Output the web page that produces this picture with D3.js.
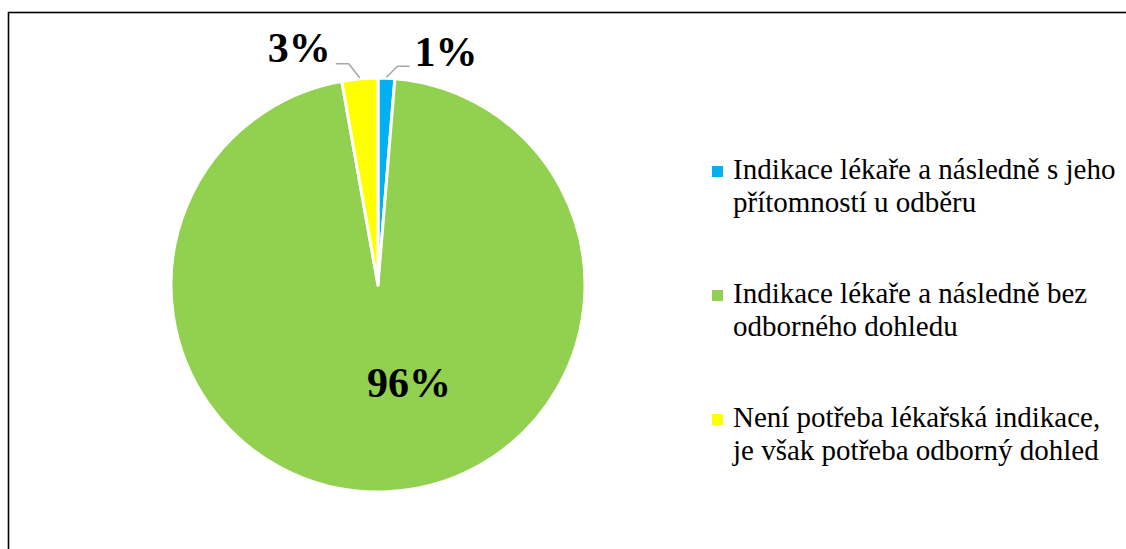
<!DOCTYPE html>
<html lang="cs">
<head>
    <meta charset="UTF-8">
    <title>Graf</title>
    <script src="https://d3js.org/d3.v7.min.js"></script>
    <style>
        body { margin: 0; background: #fff; }
        svg { display: block; }
        text { font-family: "Liberation Serif", "Times New Roman", Times, serif; }
        .pct { font-weight: bold; font-size: 42px; fill: #000; }
        .legend text { font-size: 29px; fill: #000; }
        .leader { fill: none; stroke: #a6a6a6; stroke-width: 1.5; }
    </style>
</head>
<body>
<script>
    const width = 1126;
    const height = 549;

    // data
    const categories = [
        ["Indikace lékaře a následně s jeho", "přítomností u odběru"],
        ["Indikace lékaře a následně bez", "odborného dohledu"],
        ["Není potřeba lékařská indikace,", "je však potřeba odborný dohled"]
    ];
    const values = [1.3, 95.9, 2.8];
    const valueLabels = ["1%", "96%", "3%"];
    const colors = ["#00b0f0", "#92d050", "#ffff00"];

    const svg = d3.select("body").append("svg")
        .attr("width", width).attr("height", height);

    // chart frame (runs off the right / bottom edge)
    svg.append("rect")
        .attr("x", 8.5).attr("y", 12.5)
        .attr("width", width + 20).attr("height", height + 20)
        .attr("fill", "none").attr("stroke", "#000").attr("stroke-width", 1.6);

    const cx = 378, cy = 285, radius = 207;

    const pie = d3.pie().sort(null).value(d => d)(values);
    const arc = d3.arc().innerRadius(0).outerRadius(radius);

    const g = svg.append("g").attr("transform", `translate(${cx},${cy})`);

    g.selectAll("path.slice")
        .data(pie)
        .enter()
        .append("path")
        .attr("class", "slice")
        .attr("d", arc)
        .attr("fill", (d, i) => colors[i])
        .attr("stroke", "#fff")
        .attr("stroke-width", 3)
        .attr("stroke-linejoin", "round");

    // label placement: inside for the big slice, outside with leader for small ones
    const mid = d => (d.startAngle + d.endAngle) / 2;
    const onRim = (a, r) => [Math.sin(a) * r, -Math.cos(a) * r];

    pie.forEach((d, i) => {
        const a = mid(d);
        if (d.value > 50) {
            const c = arc.centroid(d);
            g.append("text").attr("class", "pct")
                .attr("x", c[0] + 26).attr("y", c[1] + 9)
                .attr("text-anchor", "middle")
                .text(valueLabels[i]);
            return;
        }
        const side = Math.sin(a) >= 0 ? 1 : -1;
        const p0 = onRim(a, radius + 1);
        const p1 = [p0[0] + side * 11, p0[1] - (side > 0 ? 11 : 14)];
        const p2 = [p1[0] + side * (side > 0 ? 12 : 13), p1[1]];
        g.append("path").attr("class", "leader")
            .attr("d", d3.line()([p0, p1, p2]));
        g.append("text").attr("class", "pct")
            .attr("x", p2[0] + side * 5)
            .attr("y", p2[1] + (side > 0 ? 0 : -2))
            .attr("text-anchor", side > 0 ? "start" : "end")
            .text(valueLabels[i]);
    });

    // legend
    const legend = svg.append("g").attr("class", "legend")
        .attr("transform", "translate(712,179)");

    const item = legend.selectAll("g.item")
        .data(categories)
        .enter()
        .append("g")
        .attr("class", "item")
        .attr("transform", (d, i) => `translate(0,${i * 124})`);

    item.append("rect")
        .attr("x", 0).attr("y", -13)
        .attr("width", 11).attr("height", 11)
        .attr("fill", (d, i) => colors[i]);

    item.append("text")
        .attr("x", 21)
        .selectAll("tspan")
        .data(d => d)
        .enter()
        .append("tspan")
        .attr("x", 21)
        .attr("y", (d, j) => j * 33)
        .text(d => d);
</script>
</body>
</html>
